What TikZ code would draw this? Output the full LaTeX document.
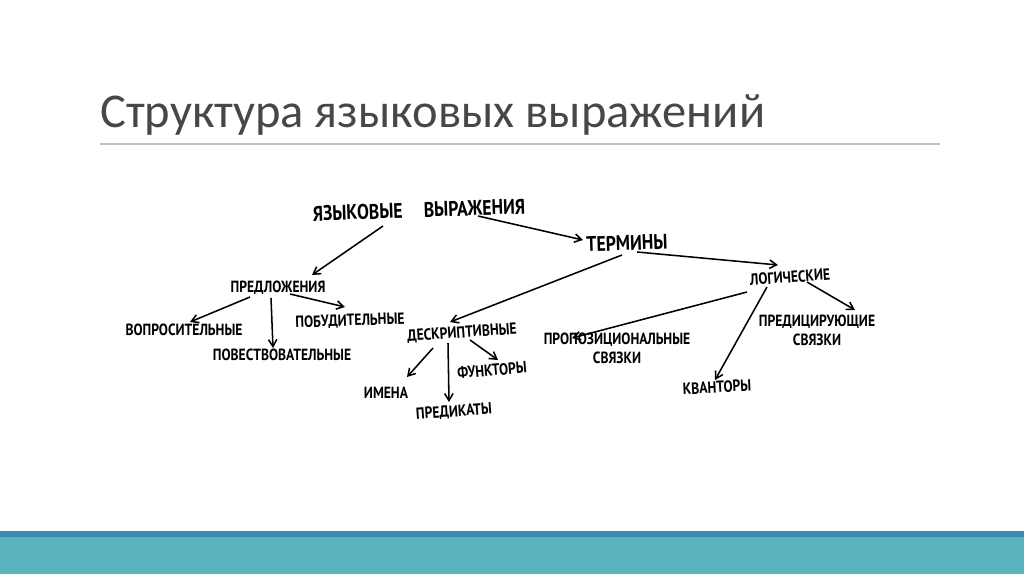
\documentclass[tikz,border=0pt]{standalone}
\usepackage{fontspec}
\setmainfont{Carlito}
\newfontfamily\handfont[FakeStretch=0.84]{PT Sans}
\usetikzlibrary{arrows.meta, calc}
\definecolor{barblue}{HTML}{3A8CB6}
\definecolor{barteal}{HTML}{5AB4C0}
\definecolor{rulegray}{HTML}{C0C0C0}
\definecolor{titlegray}{HTML}{474747}
\tikzset{
	lbl/.style={font=\handfont\bfseries\fontsize{11.5}{13.5}\selectfont, inner sep=1pt, align=center},
	biglbl/.style={lbl, font=\handfont\bfseries\fontsize{15}{18}\selectfont},
	arr/.style={-{Straight Barb[length=5pt, width=6pt]}, line width=1.1pt},
}
\begin{document}
\begin{tikzpicture}[x=0.025cm, y=-0.025cm]
	\useasboundingbox (0,0) rectangle (1024,574);
	
	% slide frame
	\node[anchor=base west, inner sep=0, text=titlegray, font=\fontsize{34.5}{40}\selectfont] (title) at (100,127) {Структура языковых выражений};
	\draw[rulegray, line width=0.8pt] (100,144) -- (940,144);
	\fill[barblue] (0,531) rectangle (1024,537);
	\fill[barteal] (0,537) rectangle (1024,574);
	
	% tree
	\node[biglbl, rotate=2] (yv) at (419,210) {ЯЗЫКОВЫЕ\quad ВЫРАЖЕНИЯ};
	\node[biglbl, rotate=2] (term) at (627,243) {ТЕРМИНЫ};
	\node[lbl] (pred) at (278,288) {ПРЕДЛОЖЕНИЯ};
	\node[lbl] (vopr) at (184,330) {ВОПРОСИТЕЛЬНЫЕ};
	\node[lbl] (povest) at (282,355) {ПОВЕСТВОВАТЕЛЬНЫЕ};
	\node[lbl, rotate=2] (pobud) at (350,321) {ПОБУДИТЕЛЬНЫЕ};
	\node[lbl, rotate=4] (deskr) at (462,333) {ДЕСКРИПТИВНЫЕ};
	\node[lbl] (imena) at (386,393) {ИМЕНА};
	\node[lbl, rotate=4] (predik) at (454,412) {ПРЕДИКАТЫ};
	\node[lbl, rotate=5] (funk) at (492,370) {ФУНКТОРЫ};
	\node[lbl, rotate=4] (logic) at (790,277) {ЛОГИЧЕСКИЕ};
	\node[lbl] (prop) at (617,348) {ПРОПОЗИЦИОНАЛЬНЫЕ\\СВЯЗКИ};
	\node[lbl] (predic) at (817,330) {ПРЕДИЦИРУЮЩИЕ\\СВЯЗКИ};
	\node[lbl, rotate=3] (kvant) at (717,387) {КВАНТОРЫ};
	
	\draw[arr] ($(yv)+(-36,16)$) -- ($(pred)+(34,-13)$);
	\draw[arr] ($(yv)+(59,6)$) -- ($(term)+(-44,-3)$);
	\draw[arr] ($(pred)+(-28,9)$) -- ($(vopr)+(6,-8)$);
	\draw[arr] ($(pred)+(-7,10)$) -- ($(povest)+(-9,-7)$);
	\draw[arr] ($(pred)+(12,6)$) -- ($(pobud)+(-5,-14)$);
	\draw[arr] ($(term)+(-5,12)$) -- ($(deskr)+(-12,-11)$);
	\draw[arr] ($(term)+(10,9)$) -- ($(logic)+(-12,-12)$);
	\draw[arr] ($(logic)+(-43,15)$) -- ($(prop)+(-45,-10)$);
	\draw[arr] ($(logic)+(-23,10)$) -- ($(kvant)+(-2,-7)$);
	\draw[arr] ($(logic)+(17,5)$) -- ($(predic)+(38,-20)$);
	\draw[arr] ($(deskr)+(-29,15)$) -- ($(imena)+(21,-16)$);
	\draw[arr] ($(deskr)+(-14,10)$) -- ($(predik)+(-5,-10)$);
	\draw[arr] ($(deskr)+(8,7)$) -- ($(funk)+(6,-10)$);
\end{tikzpicture}
\end{document}
